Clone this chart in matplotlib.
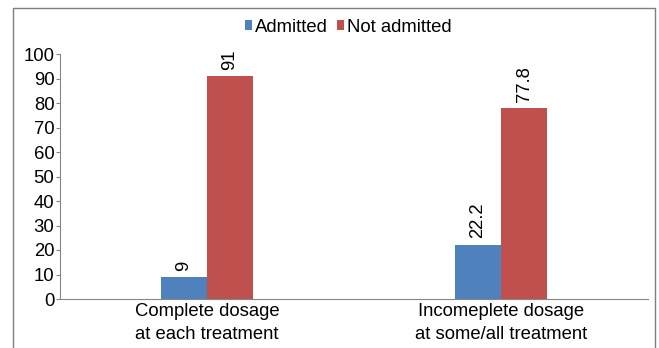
import numpy as np
import matplotlib.pyplot as plt
from matplotlib.patches import Rectangle

categories = ["Complete dosage\nat each treatment", "Incomeplete dosage\nat some/all treatment"]
admitted = [9, 22.2]
not_admitted = [91, 77.8]
labels_admitted = ["9", "22.2"]
labels_not_admitted = ["91", "77.8"]

plt.rcParams['font.family'] = ['Liberation Sans', 'DejaVu Sans']
fs = 13.3

fig = plt.figure(figsize=(6.59, 3.48), dpi=100)
ax = fig.add_axes([60 / 659, 1 - 299 / 348, 588 / 659, 245 / 348])

# outer frame of the chart area (bottom edge cut off in the original)
fig.patches.append(Rectangle((13 / 659, -0.05), 642 / 659, 1 - 8 / 348 + 0.05,
                             transform=fig.transFigure, fill=False,
                             edgecolor='#7f7f7f', linewidth=1.0))

x = np.arange(len(categories))
w = 0.157
b1 = ax.bar(x - w / 2, admitted, w, color='#4f81bd', label='Admitted')
b2 = ax.bar(x + w / 2, not_admitted, w, color='#c0504d', label='Not admitted')

for bars, labs in [(b1, labels_admitted), (b2, labels_not_admitted)]:
    for rect, lab in zip(bars, labs):
        ax.text(rect.get_x() + rect.get_width() / 2, rect.get_height() + 2.5, lab,
                rotation=90, ha='center', va='bottom', fontsize=fs)

ax.set_xlim(-0.5, 1.5)
ax.set_ylim(0, 100)
ax.set_yticks(range(0, 101, 10))
ax.set_xticks(x)
ax.set_xticklabels(categories, fontsize=fs, linespacing=1.45)
ax.tick_params(axis='x', length=0, pad=3)
ax.tick_params(axis='y', labelsize=fs, length=3, color='#868686', pad=1)
for s in ['top', 'right']:
    ax.spines[s].set_visible(False)
for s in ['left', 'bottom']:
    ax.spines[s].set_color('#868686')

ax.legend(loc='center', bbox_to_anchor=(0.49, 1.11), ncol=2, frameon=False,
          fontsize=fs, handlelength=0.4, handleheight=0.4, handletextpad=0.15,
          columnspacing=0.5, borderpad=0)

fig.savefig("out.png", dpi=100)
